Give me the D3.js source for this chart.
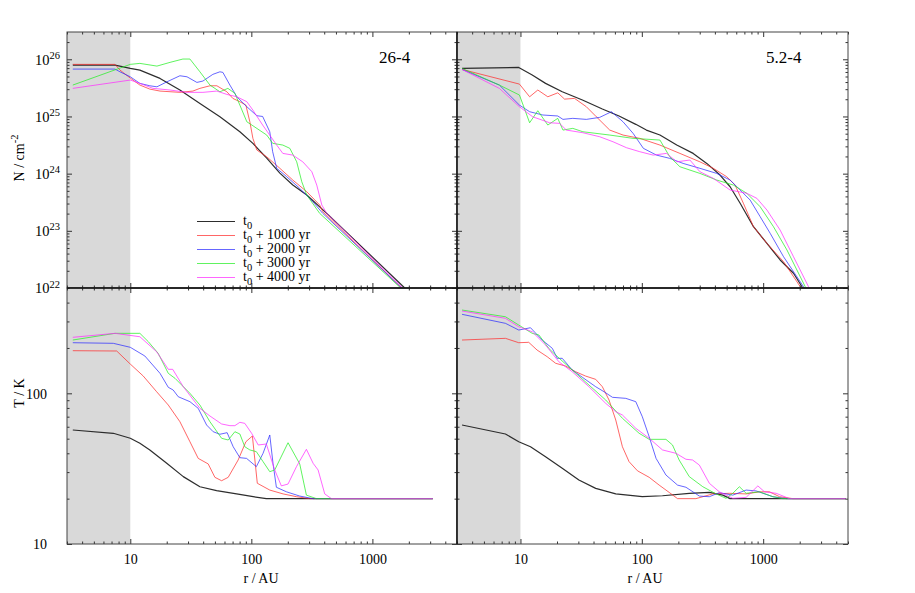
<!DOCTYPE html>
<html><head><meta charset="utf-8">
<script src="https://cdn.jsdelivr.net/npm/d3@7"></script>
<style>body{margin:0;background:#fff}</style>
</head><body>
<svg id="c" width="915" height="593"></svg>
<script>
// ---------------- data: [r (AU), value] ----------------
// Panel 26-4, column density N (cm^-2)
const A_N0 = [[3.35,7.9e25],[7.48,7.9e25],[10,6.93e25],[12.0,6.47e25],[17.6,4.63e25],[25.7,2.90e25],[37.6,1.69e25],[55.0,9.88e24],[80.4,5.40e24],[103,3.39e24],[134,1.87e24],[172,1.02e24],[220,6.32e23],[287,4.23e23],[420,2.02e23],[1850,1e22]];
const A_N1 = [[3.35,8.15e25],[7.48,8.15e25],[8.22,6.47e25],[10,4.69e25],[12.0,3.54e25],[14.5,3.01e25],[17.6,2.78e25],[25.7,2.64e25],[32.9,2.78e25],[37.6,3.10e25],[45.5,3.44e25],[51.9,3.44e25],[62.8,2.70e25],[70.3,2.07e25],[80.4,1.81e25],[90.1,1.58e25],[97.2,8.07e24],[103,4.14e24],[111,2.59e24],[134,1.97e24],[172,1.24e24],[220,7.73e23],[287,4.83e23],[367,2.83e23],[389,2.16e23],[1745,1e22]];
const A_N2 = [[3.35,6.74e25],[7.48,6.74e25],[8.22,6.04e25],[10,4.94e25],[12.0,3.79e25],[14.5,3.44e25],[16.6,3.30e25],[20.1,4.04e25],[25.7,5.15e25],[29.4,4.94e25],[35.5,3.94e25],[39.8,4.16e25],[48.1,5.45e25],[55.0,6.04e25],[58.2,5.90e25],[66.5,3.54e25],[75.9,2.21e25],[91.8,1.48e25],[111,1.03e25],[124,1.00e25],[142,5.40e24],[150,2.42e24],[162,1.24e24],[196,8.83e23],[251,5.53e23],[322,3.23e23],[389,2.02e23],[1745,1e22]];
const A_N3 = [[3.35,3.54e25],[10,8.15e25],[12.0,8.48e25],[16.6,7.60e25],[21.3,8.83e25],[27.2,1.01e26],[31.1,1.01e26],[37.6,6.04e25],[45.5,3.54e25],[55.0,2.70e25],[64.0,3.10e25],[73.1,2.54e25],[80.4,1.58e25],[91.8,8.07e24],[103,6.88e24],[134,4.73e24],[150,3.39e24],[182,3.16e24],[208,2.77e24],[237,1.61e24],[261,7.22e23],[287,4.23e23],[367,2.02e23],[1714,1e22]];
const A_N4 = [[3.35,3.10e25],[10,4.33e25],[12.0,3.79e25],[15.4,3.10e25],[21.3,2.90e25],[29.4,2.64e25],[39.8,2.64e25],[51.9,2.78e25],[62.8,2.43e25],[75.9,2.21e25],[91.8,1.81e25],[103,1.29e25],[124,7.08e24],[162,3.16e24],[182,2.26e24],[220,2.11e24],[266,1.61e24],[316,1.08e24],[347,6.32e23],[382,2.83e23],[420,2.02e23],[1780,1e22]];
// Panel 5.2-4, column density N (cm^-2)
const B_N0 = [[3.30,6.93e25],[9.68,7.21e25],[12.5,5.30e25],[16.1,3.79e25],[22.1,2.70e25],[32.4,1.94e25],[47.3,1.35e25],[64.9,1.02e25],[89.2,7.28e24],[109,5.78e24],[141,4.73e24],[194,3.16e24],[265,2.26e24],[343,1.51e24],[441,9.45e23],[534,5.90e23],[646,3.03e23],[832,1.18e23],[1074,6.04e22],[1380,3.09e22],[1778,1.81e22],[2089,1.05e22],[2200,9.2e21]];
const B_N1 = [[3.30,6.65e25],[9.81,3.68e25],[11.9,2.21e25],[13.9,2.90e25],[16.8,2.21e25],[20.3,2.59e25],[23.1,2.01e25],[27.9,2.07e25],[34.9,1.48e25],[42.2,9.88e24],[54.4,5.78e24],[70.0,4.73e24],[96.2,4.14e24],[141,3.16e24],[206,2.26e24],[301,1.61e24],[388,1.24e24],[501,8.83e23],[587,6.32e23],[687,3.03e23],[832,1.18e23],[1074,6.04e22],[1472,2.88e22],[2023,1.05e22],[2183,9.2e21]];
const B_N2 = [[3.30,6.65e25],[6.70,3.54e25],[9.81,1.58e25],[11.9,1.21e25],[15.3,1.06e25],[20.3,1.02e25],[22.4,8.89e24],[27.0,9.27e24],[34.9,8.89e24],[45.0,9.64e24],[56.2,1.21e25],[70.0,8.07e24],[84.7,5.07e24],[103,2.77e24],[132,2.11e24],[170,1.85e24],[219,1.51e24],[301,1.24e24],[414,1.01e24],[534,7.73e23],[646,5.17e23],[781,3.45e23],[944,1.77e23],[1142,9.04e22],[1472,3.52e22],[2153,1.05e22],[2265,9.2e21]];
const B_N3 = [[3.30,6.93e25],[6.70,3.54e25],[9.81,2.37e25],[11.9,7.76e24],[13.9,1.26e25],[16.8,7.08e24],[20.3,9.27e24],[22.4,5.78e24],[27.0,6.19e24],[32.7,5.40e24],[54.4,4.73e24],[84.7,4.14e24],[141,3.87e24],[170,1.97e24],[206,1.32e24],[301,1.01e24],[414,7.73e23],[568,6.32e23],[733,4.53e23],[944,2.64e23],[1216,1.18e23],[1570,4.62e22],[2223,1.05e22],[2355,9.2e21]];
const B_N4 = [[3.30,6.65e25],[6.70,3.10e25],[9.81,1.48e25],[12.6,9.88e24],[17.4,7.76e24],[21.0,7.57e24],[23.9,5.78e24],[32.7,5.19e24],[45.0,4.42e24],[57.9,3.61e24],[74.8,2.84e24],[96.2,2.42e24],[124,2.11e24],[160,2.26e24],[194,1.61e24],[249,1.73e24],[301,1.08e24],[388,8.28e23],[534,5.17e23],[733,4.53e23],[887,3.70e23],[1074,2.31e23],[1380,1.03e23],[1778,3.52e22],[2366,1.05e22],[2495,9.2e21]];
// Panel 26-4, temperature T (K)
const C_T0 = [[3.35,57.1],[7.24,54.3],[10,50.3],[12.0,46.6],[14.5,42.1],[20.0,34.3],[27.4,28.0],[37.6,24.0],[51.6,22.6],[75.5,21.5],[103.5,20.6],[133,20],[3160,20]];
const C_T1 = [[3.35,191.8],[7.72,190.9],[10,156.4],[12.8,130.2],[16.5,102.5],[20.6,83.6],[25.7,64.8],[31.1,47.7],[36.4,37.0],[44.0,34.0],[50.0,27.7],[56.8,26.3],[64.4,27.7],[77.8,36.1],[90.1,47.7],[102,52.1],[112,25.3],[142,22.8],[183,21.5],[236,20.6],[304,20],[3160,20]];
const C_T2 = [[3.35,216.7],[7.24,214.7],[10,202.0],[13.2,176.8],[17.6,135.7],[20.6,109.6],[22.6,105.2],[24.9,94.9],[31.1,88.0],[36.4,79.5],[42.7,61.6],[48.4,55.6],[55.0,53.5],[63.1,54.8],[70.8,44.2],[80.4,37.4],[91.3,37.0],[110,32.6],[125,40.0],[142,52.9],[151,34.3],[161,23.8],[195,22.2],[251,20.8],[324,20],[3160,20]];
const C_T3 = [[3.35,225.8],[7.48,250.1],[12.0,250.1],[14.1,220.0],[17.0,184.2],[20.6,135.7],[23.4,125.8],[31.1,100],[37.6,83.6],[45.5,64.8],[56.8,50.3],[64.4,49.0],[73.1,55.6],[80.4,53.7],[88.3,44.2],[97.2,42.1],[110,41.0],[125,35.2],[142,30.2],[156,31.0],[201,47.0],[251,34.0],[285,21.1],[345,20],[3160,20]];
const C_T4 = [[3.35,235.3],[7.48,250.1],[12.0,237.4],[16.5,188.8],[20.6,144.3],[22.4,144.3],[27.4,110.6],[37.6,79.5],[45.5,70.7],[56.8,62.6],[66.5,61.0],[73.1,61.0],[80.4,64.2],[88.3,63.2],[100.5,54.3],[114,45.4],[133,46.1],[156,31.0],[177,24.3],[201,25.0],[236,32.6],[285,42.5],[324,34.3],[356,31.0],[404,21.5],[459,20],[3160,20]];
// Panel 5.2-4, temperature T (K)
const D_T0 = [[3.30,61.6],[7.52,53.7],[9.68,47.7],[12.1,44.2],[16.1,38.0],[22.1,31.8],[30.3,26.6],[41.7,23.4],[61.0,21.5],[101,20.6],[148,20.9],[246,21.7],[360,22.0],[465,21.1],[534,20],[4800,20]];
const D_T1 = [[3.30,225.8],[7.52,231.7],[9.68,216.7],[11.7,218.0],[13.7,193.8],[16.6,175.0],[19.5,158.2],[23.5,151.8],[28.5,139.1],[34.4,130.2],[41.7,123.8],[47.3,110.6],[53.7,90.3],[61.0,66.5],[69.2,44.2],[78.5,35.2],[92.1,30.6],[115,27.7],[139,24.6],[168,22.0],[197,20],[279,20],[384,21.5],[526,21.7],[724,21.5],[931,22.2],[1127,22.2],[1364,20.6],[1758,20],[4800,20]];
const D_T2 = [[3.30,334.4],[7.52,291.4],[9.68,263.0],[12.1,272.4],[15.1,225.8],[18.3,198.9],[20.1,170.7],[22.1,170.7],[26.7,142.8],[32.4,127.7],[41.7,110.6],[48.8,102.5],[57.3,94.1],[73.8,92.6],[89.2,88.0],[101,69.9],[115,51.5],[131,37.0],[158,28.7],[197,24.6],[231,23.8],[298,20.8],[360,20.6],[435,21.9],[562,21.1],[724,22.8],[875,22.5],[1203,20.6],[1549,20],[4800,20]];
const D_T3 = [[3.30,357.1],[7.52,322.3],[9.68,283.9],[12.5,250.1],[14.2,243.8],[17.1,198.9],[19.5,179.5],[26.7,142.8],[36.7,113.5],[50.4,90.3],[69.2,68.3],[95.0,54.3],[115,49.5],[158,49.5],[179,45.4],[203,36.1],[246,28.0],[318,24.0],[409,21.5],[494,20.1],[562,21.7],[637,24.0],[724,21.7],[931,22.2],[1203,20.6],[1455,20],[4800,20]];
const D_T4 = [[3.30,351.7],[7.52,314.6],[9.68,276.7],[12.5,256.3],[16.1,209.2],[20.7,162.1],[26.7,139.1],[36.7,110.6],[50.4,85.8],[61.0,75.5],[69.2,71.8],[89.2,58.6],[115,50.3],[148,42.1],[191,40.0],[231,36.5],[262,36.1],[298,33.4],[360,25.3],[435,22.2],[562,20.1],[724,20.4],[904,24.3],[1026,22.2],[1280,21.7],[1649,20],[4800,20]];

const panelTitles = ["26-4", "5.2-4"];
const legendSuffix = ["", " + 1000 yr", " + 2000 yr", " + 3000 yr", " + 4000 yr"];
const seriesColors = ["#222222", "#ff2a2a", "#2a2aff", "#22ee22", "#ff2aff"];
const rDomain = [3, 5000];
const nDomain = [1e22, 3e26];
const tDomain = [10, 500];
const shadeLimit = 10;
const xTickLabels = [10, 100, 1000];
const nTickLabels = [1e22, 1e23, 1e24, 1e25, 1e26];
const tTickLabels = [10, 100];

// ---------------- layout ----------------
const FONT = "'Liberation Serif','Times New Roman',Times,serif";
const FS = "14px", FSS = "10.5px";
const svg = d3.select("#c").style("font-family", FONT);
const COLS = [{x0: 67, x1: 457}, {x0: 457, x1: 848}];
const ROWS = [{y0: 32, y1: 288}, {y0: 288, y1: 544}];

const panels = [
  {c: 0, r: 0, ydom: nDomain, data: [A_N0, A_N1, A_N2, A_N3, A_N4], yLabels: nTickLabels, kind: "N", title: panelTitles[0]},
  {c: 1, r: 0, ydom: nDomain, data: [B_N0, B_N1, B_N2, B_N3, B_N4], yLabels: null, kind: "N", title: panelTitles[1]},
  {c: 0, r: 1, ydom: tDomain, data: [C_T0, C_T1, C_T2, C_T3, C_T4], yLabels: tTickLabels, kind: "T"},
  {c: 1, r: 1, ydom: tDomain, data: [D_T0, D_T1, D_T2, D_T3, D_T4], yLabels: null, kind: "T"}
];

const isPow10 = v => Math.abs(Math.log10(v) - Math.round(Math.log10(v))) < 1e-9;

panels.forEach((p, pi) => {
  const col = COLS[p.c], row = ROWS[p.r];
  const x = d3.scaleLog().domain(rDomain).range([col.x0, col.x1]);
  const y = d3.scaleLog().domain(p.ydom).range([row.y1, row.y0]);
  const g = svg.append("g");

  // shaded region r < 10
  g.append("rect")
    .attr("x", x(rDomain[0])).attr("y", row.y0)
    .attr("width", x(shadeLimit) - x(rDomain[0])).attr("height", row.y1 - row.y0)
    .attr("fill", "#d9d9d9");

  const clipId = "clip" + pi;
  svg.append("clipPath").attr("id", clipId).append("rect")
    .attr("x", col.x0).attr("y", row.y0).attr("width", col.x1 - col.x0).attr("height", row.y1 - row.y0);

  const line = d3.line().x(d => x(d[0])).y(d => y(d[1]));
  p.data.forEach((s, i) => {
    g.append("path").attr("d", line(s))
      .attr("clip-path", `url(#${clipId})`)
      .attr("fill", "none")
      .attr("stroke", seriesColors[i])
      .attr("stroke-width", i === 0 ? 1.2 : 0.9)
      .attr("stroke-opacity", i === 0 ? 0.95 : 0.8)
      .attr("stroke-linejoin", "round");
  });

  // ticks (inward on all four sides)
  const xt = x.ticks(), yt = y.ticks();
  const xMaj = xt.filter(isPow10), xMin = xt.filter(v => !isPow10(v));
  const yMaj = yt.filter(isPow10), yMin = yt.filter(v => !isPow10(v));
  const styleAxis = sel => {
    sel.select(".domain").remove();
    sel.selectAll("line").attr("stroke", "#333").attr("stroke-width", 1);
    sel.selectAll("text").attr("fill", "#000").style("font-family", FONT).style("font-size", FS);
  };
  const MAJ = 5, MIN = 2.5;
  // bottom
  g.append("g").attr("transform", `translate(0,${row.y1})`)
    .call(d3.axisBottom(x).tickValues(xMin).tickSize(-MIN).tickFormat("")).call(styleAxis);
  g.append("g").attr("transform", `translate(0,${row.y1})`)
    .call(d3.axisBottom(x).tickValues(xMaj).tickSize(-MAJ).tickPadding(10)
      .tickFormat(p.r === 1 ? (v => xTickLabels.includes(v) ? String(v) : "") : "")).call(styleAxis);
  // top
  g.append("g").attr("transform", `translate(0,${row.y0})`)
    .call(d3.axisTop(x).tickValues(xMin).tickSize(-MIN).tickFormat("")).call(styleAxis);
  g.append("g").attr("transform", `translate(0,${row.y0})`)
    .call(d3.axisTop(x).tickValues(xMaj).tickSize(-MAJ).tickFormat("")).call(styleAxis);
  // left
  g.append("g").attr("transform", `translate(${col.x0},0)`)
    .call(d3.axisLeft(y).tickValues(yMin).tickSize(-MIN).tickFormat("")).call(styleAxis);
  const leftMaj = g.append("g").attr("transform", `translate(${col.x0},0)`)
    .call(d3.axisLeft(y).tickValues(yMaj).tickSize(-MAJ).tickPadding(5).tickFormat("")).call(styleAxis);
  // right
  g.append("g").attr("transform", `translate(${col.x1},0)`)
    .call(d3.axisRight(y).tickValues(yMin).tickSize(-MIN).tickFormat("")).call(styleAxis);
  g.append("g").attr("transform", `translate(${col.x1},0)`)
    .call(d3.axisRight(y).tickValues(yMaj).tickSize(-MAJ).tickFormat("")).call(styleAxis);

  // y tick labels
  if (p.yLabels) {
    leftMaj.selectAll(".tick").each(function(v) {
      if (!p.yLabels.includes(v)) return;
      const t = d3.select(this).select("text").text(null).attr("x", p.kind === "N" ? -7 : -20).attr("dy", "0.35em");
      if (p.kind === "N") {
        const e = Math.round(Math.log10(v));
        t.append("tspan").style("font-size", "14.5px").text("10");
        t.append("tspan").attr("dy", "-0.55em").style("font-size", FSS).text(e);
      } else {
        t.text(String(v));
      }
    });
  }

  // frame
  g.append("rect").attr("x", col.x0).attr("y", row.y0)
    .attr("width", col.x1 - col.x0).attr("height", row.y1 - row.y0)
    .attr("fill", "none").attr("stroke", "#444").attr("stroke-width", 1);

  // title
  if (p.title) {
    g.append("text").attr("x", p.c === 0 ? 379 : 766).attr("y", 63)
      .style("font-size", "17px").attr("fill", "#000").text(p.title);
  }
});

// divider lines (shared borders look darker)
svg.append("line").attr("x1", 67).attr("x2", 848).attr("y1", 288).attr("y2", 288).attr("stroke", "#111").attr("stroke-width", 1.4);
svg.append("line").attr("x1", 457).attr("x2", 457).attr("y1", 32).attr("y2", 544).attr("stroke", "#111").attr("stroke-width", 1.4);

// axis titles
const ny = svg.append("text").attr("transform", "translate(24,158) rotate(-90)")
  .attr("text-anchor", "middle").style("font-size", FS);
ny.append("tspan").text("N / cm");
ny.append("tspan").attr("dy", "-0.55em").style("font-size", FSS).text("-2");
svg.append("text").attr("transform", "translate(24,393) rotate(-90)")
  .attr("text-anchor", "middle").style("font-size", FS).text("T / K");
[261, 645].forEach(cx => {
  svg.append("text").attr("x", cx).attr("y", 583).attr("text-anchor", "middle")
    .style("font-size", FS).text("r / AU");
});

// legend (top-left panel)
const leg = svg.append("g");
legendSuffix.forEach((suf, i) => {
  const yy = 221.5 + 14 * i;
  leg.append("line").attr("x1", 197).attr("x2", 235).attr("y1", yy).attr("y2", yy)
    .attr("stroke", seriesColors[i]).attr("stroke-width", i === 0 ? 1.2 : 0.9).attr("stroke-opacity", i === 0 ? 0.95 : 0.8);
  const t = leg.append("text").attr("x", 243).attr("y", yy + 3).style("font-size", FS);
  t.append("tspan").text("t");
  t.append("tspan").attr("dy", "4").style("font-size", FSS).text("0");
  if (suf) t.append("tspan").attr("dy", "-4").text(suf);
});
</script>
</body></html>
